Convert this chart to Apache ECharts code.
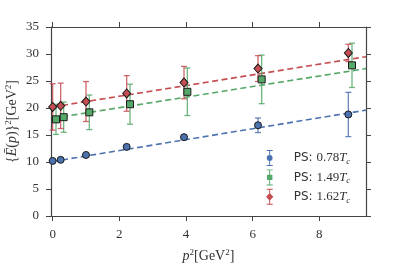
<!DOCTYPE html>
<html>
<head>
<meta charset="utf-8">
<script src="https://cdn.jsdelivr.net/npm/echarts@6/dist/echarts.min.js"></script>
<style>html,body{margin:0;padding:0;background:#fff}#c{width:407px;height:271px}</style>
</head>
<body>
<div id="c"></div>
<script>
// ---- data ----
const seriesNames = ['PS: 0.78Tc', 'PS: 1.49Tc', 'PS: 1.62Tc'];
const legendNumbers = ['0.78', '1.49', '1.62'];

const pBlue   = [0, 0.24, 1.0, 2.22, 3.94, 6.16, 8.87];
const eBlue   = [10.2, 10.4, 11.3, 12.8, 14.6, 16.8, 18.8];
const errBlue = [0.2, 0.25, 0.3, 0.35, 0.4, 1.35, 4.1];

const pGreen   = [0.1, 0.33, 1.1, 2.32, 4.04, 6.27, 8.98];
const eGreen   = [17.9, 18.3, 19.2, 20.7, 23.0, 25.3, 27.9];
const errGreen = [2.8, 2.8, 3.2, 3.7, 4.4, 4.5, 4.1];

const pRed   = [0, 0.24, 1.0, 2.22, 3.94, 6.16, 8.87];
const eRed   = [20.2, 20.4, 21.2, 22.7, 24.7, 27.3, 30.2];
const errRed = [4.3, 4.2, 3.7, 3.3, 3.0, 2.4, 1.6];

const fitP     = [0, 9.4];
const fitBlue  = [10.1, 19.6];
const fitGreen = [18.1, 27.3];
const fitRed   = [20.2, 29.5];

const xTicks = [0, 2, 4, 6, 8];
const yTicks = [0, 5, 10, 15, 20, 25, 30, 35];

// ---- styling ----
const colors = ['#4C72B0', '#55A868', '#C44E52'];
const symbols = ['circle', 'rect', 'diamond'];
const symbolSizes = [7, 7, [8, 9]];
const serif = 'Liberation Serif';
const axisColor = '#444';

const barPath = 'M4.4 1 H5.6 V19 H4.4 Z M1.2 0 H8.8 V1.2 H1.2 Z M1.2 18.8 H8.8 V20 H1.2 Z ';
const legendIcons = [
  'path://' + barPath + 'M8.6 10 A3.6 3.6 0 1 1 1.4 10 A3.6 3.6 0 1 1 8.6 10 Z',
  'path://' + barPath + 'M1.6 6.6 H8.4 V13.4 H1.6 Z',
  'path://' + barPath + 'M5 5.2 L9.6 10 L5 14.8 L0.4 10 Z'
];

const groups = [
  {p: pBlue, e: eBlue, err: errBlue, fit: fitBlue},
  {p: pGreen, e: eGreen, err: errGreen, fit: fitGreen},
  {p: pRed, e: eRed, err: errRed, fit: fitRed}
];

const series = [];
groups.forEach((g, i) => {
  series.push({
    type: 'line', name: seriesNames[i] + ' fit',
    data: fitP.map((x, k) => [x, g.fit[k]]),
    showSymbol: false, symbol: 'none', silent: true, z: 1,
    lineStyle: {color: colors[i], width: 1.6, type: [6, 3.5]}
  });
});
groups.forEach((g, i) => {
  series.push({
    type: 'custom', name: seriesNames[i] + ' err', z: 2, silent: true,
    data: g.p.map((x, k) => [x, g.e[k] - g.err[k], g.e[k] + g.err[k]]),
    renderItem: function (params, api) {
      const lo = api.coord([api.value(0), api.value(1)]);
      const hi = api.coord([api.value(0), api.value(2)]);
      const w = 3;
      const st = {stroke: colors[i], lineWidth: 1.3, opacity: 0.85};
      return {
        type: 'group',
        children: [
          {type: 'line', shape: {x1: lo[0], y1: lo[1], x2: hi[0], y2: hi[1]}, style: st},
          {type: 'line', shape: {x1: lo[0] - w, y1: lo[1], x2: lo[0] + w, y2: lo[1]}, style: st},
          {type: 'line', shape: {x1: hi[0] - w, y1: hi[1], x2: hi[0] + w, y2: hi[1]}, style: st}
        ]
      };
    }
  });
});
groups.forEach((g, i) => {
  series.push({
    type: 'scatter', name: seriesNames[i], z: 3,
    data: g.p.map((x, k) => [x, g.e[k]]),
    symbol: symbols[i], symbolSize: symbolSizes[i],
    itemStyle: {color: colors[i], borderColor: '#1a1a1a', borderWidth: 1, opacity: 1},
    clip: false
  });
});

const axisCommon = {
  type: 'value',
  axisLine: {show: true, onZero: false, lineStyle: {color: axisColor, width: 1.2}},
  axisTick: {show: true, inside: false, length: 5, lineStyle: {color: axisColor, width: 1}},
  splitLine: {show: false}
};

const option = {
  animation: false,
  backgroundColor: '#fff',
  grid: {left: 51, right: 41, top: 27, bottom: 55, containLabel: false, outerBoundsMode: 'none'},
  xAxis: [
    Object.assign({}, axisCommon, {
      position: 'bottom', min: -0.05, max: 9.4,
      axisTick: Object.assign({}, axisCommon.axisTick, {customValues: xTicks}),
      axisLabel: {customValues: xTicks, margin: 12, fontFamily: serif, fontSize: 13, color: '#333'},
      name: '{it|p}{sup|2}{n|[GeV}{sup|2}{n|]}',
      nameLocation: 'middle', nameGap: 32, nameMoveOverlap: false,
      nameTextStyle: {
        fontFamily: serif, fontSize: 14, color: '#333',
        rich: {
          it: {fontFamily: serif, fontStyle: 'italic', fontSize: 14, color: '#333', lineHeight: 17},
          n: {fontFamily: serif, fontSize: 14, color: '#333', lineHeight: 17},
          sup: {fontFamily: serif, fontSize: 9, color: '#333', verticalAlign: 'top', lineHeight: 10}
        }
      }
    }),
    Object.assign({}, axisCommon, {
      position: 'top', min: -0.05, max: 9.4,
      axisTick: Object.assign({}, axisCommon.axisTick, {customValues: xTicks}),
      axisLabel: {show: false}
    })
  ],
  yAxis: [
    Object.assign({}, axisCommon, {
      position: 'left', min: 0, max: 35, interval: 5,
      axisLabel: {margin: 12, fontFamily: serif, fontSize: 13, color: '#333',
        customValues: yTicks},
      name: '{{it|Ē}({it|p})}{sup|2}[GeV{sup|2}]',
      nameLocation: 'middle', nameGap: 30, nameRotate: 90, nameMoveOverlap: false,
      nameTextStyle: {
        fontFamily: serif, fontSize: 14, color: '#333', lineHeight: 17,
        rich: {
          it: {fontFamily: serif, fontStyle: 'italic', fontSize: 14, color: '#333', lineHeight: 17},
          sup: {fontFamily: serif, fontSize: 9, color: '#333', verticalAlign: 'top', lineHeight: 10}
        }
      }
    }),
    Object.assign({}, axisCommon, {
      position: 'right', min: 0, max: 35, interval: 5,
      axisLabel: {show: false}
    })
  ],
  legend: {
    orient: 'vertical', left: 261, top: 145,
    itemWidth: 8, itemHeight: 16, itemGap: 3.4,
    data: seriesNames.map((n, i) => ({name: n, icon: legendIcons[i],
      itemStyle: {color: colors[i], borderWidth: 0}})),
    formatter: function (name) {
      const i = seriesNames.indexOf(name);
      return '{ps|PS: }{num|' + legendNumbers[i] + '}{it|T}{sub|c}';
    },
    textStyle: {
      padding: [0, 0, 0, 15],
      rich: {
        ps: {fontFamily: 'DejaVu Sans', fontSize: 12, color: '#333', lineHeight: 16},
        num: {fontFamily: serif, fontSize: 13, color: '#333', lineHeight: 16},
        it: {fontFamily: serif, fontStyle: 'italic', fontSize: 13, color: '#333', lineHeight: 16},
        sub: {fontFamily: serif, fontStyle: 'italic', fontSize: 9, color: '#333', verticalAlign: 'bottom', lineHeight: 12}
      }
    }
  },
  series: series
};

const chart = echarts.init(document.getElementById('c'), null, {renderer: 'canvas'});
chart.setOption(option);
</script>
</body>
</html>
